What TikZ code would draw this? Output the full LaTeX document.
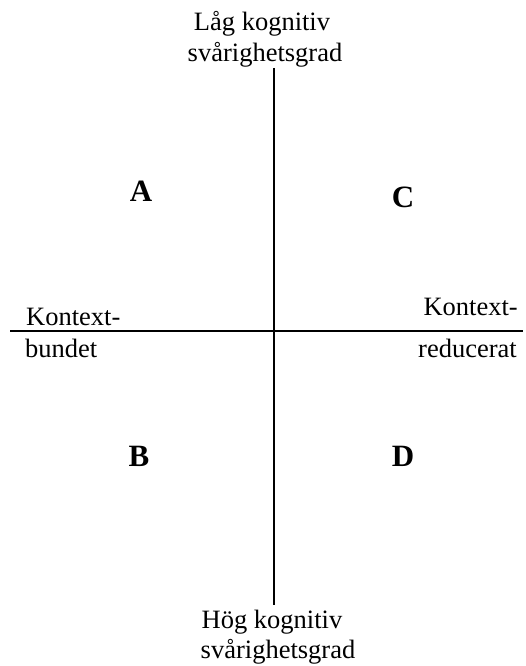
\documentclass[tikz,border=0pt]{standalone}
\usepackage{fontspec}
\setmainfont{Liberation Serif}
\usetikzlibrary{positioning}

\begin{document}
\begin{tikzpicture}[
  x=1pt, y=-1pt,
  lbl/.style={font=\fontsize{26.5}{31}\selectfont, inner sep=0pt},
  quad/.style={font=\fontsize{31}{36}\selectfont\bfseries, inner sep=0pt},
  axis/.style={-, line width=2pt, draw=black},
]
\useasboundingbox (0,0) rectangle (525,666);

% ---- axes ----
\coordinate (ytop) at (274,68);
\coordinate (ybot) at (274,605);
\coordinate (xleft) at (10,331);
\coordinate (xright) at (523,331);
\draw[axis] (ytop) -- (ybot);
\draw[axis] (xleft) -- (xright);

% ---- axis ends ----
\node[lbl, anchor=base] (lowa) at (262,31) {Låg kognitiv};
\node[lbl, anchor=base] (lowb) at (265,62) {svårighetsgrad};
\node[lbl, anchor=base] (higha) at (272,628) {Hög kognitiv};
\node[lbl, anchor=base] (highb) at (278,658) {svårighetsgrad};
\node[lbl, anchor=base west] (bounda) at (26,325) {Kontext-};
\node[lbl, anchor=base west] (boundb) at (25,357) {bundet};
\node[lbl, anchor=base east] (reda) at (518,315) {Kontext-};
\node[lbl, anchor=base east] (redb) at (517,357) {reducerat};

% ---- quadrants ----
\node[quad] (qa) at (141,191) {A};
\node[quad] (qc) at (403,197) {C};
\node[quad] (qb) at (139,456) {B};
\node[quad] (qd) at (403,456) {D};
\end{tikzpicture}
\end{document}
